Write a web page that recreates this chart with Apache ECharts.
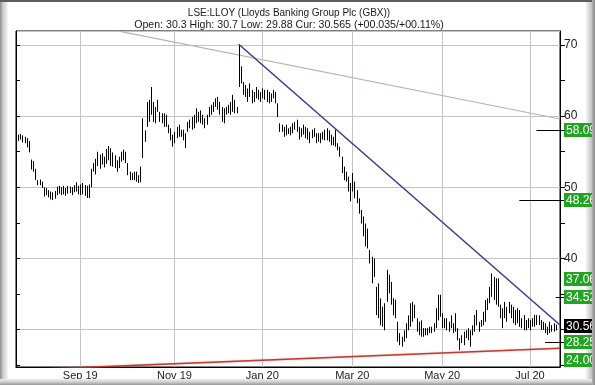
<!DOCTYPE html>
<html><head><meta charset="utf-8">
<script src="https://cdn.jsdelivr.net/npm/echarts@6/dist/echarts.min.js"></script>
<style>html,body{margin:0;padding:0;background:#fff}#c{width:595px;height:385px}</style>
</head><body><div id="c"></div>
<script>
// ---------- data ----------
const titleText = 'LSE:LLOY (Lloyds Banking Group Plc (GBX))';
const quoteText = 'Open: 30.3 High: 30.7 Low: 29.88 Cur: 30.565 (+00.035/+00.11%)';
const startDate = '2019-07-19';
const ukHolidays = ['2019-08-26','2019-12-25','2019-12-26','2020-01-01','2020-04-10','2020-04-13','2020-05-08','2020-05-25'];
const categoryCount = 255;
const monthTickLabels = ['Sep 19','Nov 19','Jan 20','Mar 20','May 20','Jul 20'];

const lows = [
56.5,56.5,56.7,56.3,56.2,55.6,54.9,52.5,52.2,51.0,
50.3,50.3,49.9,48.7,48.9,48.6,48.3,48.2,48.4,48.9,
49.1,48.9,49.0,48.8,49.1,49.2,48.9,49.3,49.4,49.0,
48.9,49.0,48.8,48.5,48.5,50.0,52.2,51.8,53.0,52.6,
53.2,52.8,53.3,53.8,53.0,52.9,52.7,52.2,52.7,53.6,
53.8,53.4,51.7,51.0,51.0,51.0,50.8,50.6,50.7,54.1,
56.4,58.5,59.2,60.2,59.2,59.0,60.6,59.2,59.0,58.5,
58.5,57.6,56.6,55.7,56.2,56.9,57.1,57.1,56.6,55.5,
57.8,58.3,58.1,58.3,59.0,59.2,59.0,58.8,58.3,58.8,
59.9,60.2,60.6,61.3,60.9,60.2,59.2,59.0,60.2,60.4,
60.2,60.6,60.4,60.4,64.1,64.6,63.0,62.7,62.0,62.7,
61.8,62.0,62.5,62.3,62.0,62.5,62.3,62.0,61.8,62.0,
62.5,61.8,59.9,57.8,57.8,57.1,57.3,57.5,57.3,57.6,
58.1,57.8,56.7,57.1,57.4,56.9,56.7,56.2,56.9,57.1,
56.2,56.4,56.2,56.7,56.6,56.6,56.4,55.9,55.9,55.7,
55.2,54.3,52.0,51.0,50.8,49.4,48.0,49.4,48.45,47.75,
46.3,44.9,43.1,41.7,41.4,39.3,36.5,37.4,32.05,31.6,
30.6,30.4,29.9,33.9,35.1,33.5,32.0,31.6,28.3,27.8,
27.6,28.3,28.8,29.9,30.4,31.1,31.6,29.7,29.2,29.0,
29.0,29.2,29.2,29.5,29.5,29.7,30.2,31.3,31.8,30.2,
30.2,29.9,29.7,30.2,29.5,29.7,28.5,27.1,28.1,27.8,
28.8,28.5,27.6,29.2,29.7,30.6,29.7,30.4,30.6,31.1,
32.75,33.7,34.6,34.16,33.5,33.2,31.6,30.2,31.6,31.1,
32.3,31.6,30.9,30.6,30.9,30.4,30.2,29.9,29.9,30.2,
29.9,30.4,30.4,30.64,30.64,29.94,29.94,29.5,29.24,29.5,
29.7,29.7,29.88
];
const highs = [
57.3,57.4,57.5,57.3,57.1,56.9,56.5,53.9,53.7,52.6,
51.0,51.1,50.8,50.0,49.9,49.6,49.4,49.3,49.5,50.1,
50.2,50.0,50.2,49.9,50.2,50.1,50.0,50.3,50.7,50.2,
50.4,50.6,50.3,50.2,50.4,52.6,53.4,54.0,55.0,54.6,
54.8,54.3,55.4,55.8,55.5,54.9,54.5,53.8,54.3,55.0,
55.3,55.0,53.4,52.2,52.0,52.2,52.2,51.7,52.9,59.7,
58.0,62.0,62.3,64.1,62.0,61.3,62.3,60.6,60.4,60.4,
60.2,58.8,58.3,57.4,57.8,58.5,58.8,58.1,58.1,57.6,
59.2,59.5,59.9,60.2,61.1,60.6,60.8,60.2,59.7,60.2,
61.3,61.6,62.0,62.5,62.7,62.0,61.3,61.1,61.3,61.6,
62.0,63.0,62.3,61.3,70.1,67.0,64.8,64.4,63.9,64.6,
63.7,63.4,64.1,63.7,63.4,63.9,63.7,63.7,63.4,63.2,
63.7,63.4,61.8,59.0,58.8,58.5,58.8,58.3,58.5,59.0,
59.2,59.5,58.5,58.3,58.8,58.5,58.3,57.8,58.1,58.3,
57.6,57.6,57.6,57.8,58.1,58.3,58.0,57.4,57.1,58.1,
56.2,55.7,54.3,52.9,52.2,51.5,50.6,52.0,50.8,49.6,
48.45,46.8,45.9,44.9,44.2,41.2,40.25,40.0,36.0,36.5,
34.4,33.2,33.7,38.4,37.7,36.7,34.4,34.2,31.1,29.5,
29.0,29.9,30.9,32.0,33.7,33.9,33.5,31.6,31.1,31.3,
30.2,30.2,30.2,30.4,30.4,30.9,33.0,34.9,34.9,32.3,
31.6,31.6,31.1,32.0,30.9,32.3,30.2,28.8,29.2,29.7,
29.9,30.2,29.9,30.6,32.05,32.75,31.1,31.35,32.5,34.16,
34.4,36.0,37.9,37.4,37.2,37.2,33.5,33.0,33.9,33.2,
33.9,33.5,33.2,32.75,33.0,32.75,31.6,32.05,31.35,31.6,
31.35,31.6,32.05,32.05,32.0,31.35,31.1,30.9,30.4,31.1,
30.64,30.9,30.7
];

const yTickValues = [25,30,35,40,45,50,55,60,65,70];
const yLabelValues = [40,50,60,70];
const blueTrend = [[104, 70.1],[254, 30.65]];
const greyTrend = [[48, 71.95],[254, 59.6]];
const redTrend  = [[0, 24.3],[254, 27.37]];
const levelValues = [58.096, 48.268, 37.063, 34.52, 28.256, 24.005];
const levelLabels = ['58.096','48.268','37.063','34.52','28.256','24.005'];
const currentPrice = 30.565;
const currentLabel = '30.565';

// ---------- layout / style (not data) ----------
const levelLineFrom = [242.6, 234.7, null, 252.4, 246.8, null]; // category index where marker line begins
const G = {left:16, top:31, width:544, height:336};
const yMin = 24.74, yMax = 71.97;
const FONT = '"Liberation Sans", Arial, sans-serif';

// trading-day categories
function pad(n){return (n<10?'0':'')+n;}
const categories = [];
{
  const d = new Date(startDate + 'T12:00:00Z');
  while (categories.length < categoryCount) {
    const s = d.getUTCFullYear()+'-'+pad(d.getUTCMonth()+1)+'-'+pad(d.getUTCDate());
    const wd = d.getUTCDay();
    if (wd !== 0 && wd !== 6 && ukHolidays.indexOf(s) < 0) categories.push(s);
    d.setUTCDate(d.getUTCDate()+1);
  }
}
const MON = ['Jan','Feb','Mar','Apr','May','Jun','Jul','Aug','Sep','Oct','Nov','Dec'];
const tickIndex = {};
categories.forEach((c,i)=>{
  if (i===0) return;
  if (c.slice(5,7) !== categories[i-1].slice(5,7)) {
    const lab = MON[+c.slice(5,7)-1] + ' ' + c.slice(2,4);
    if (monthTickLabels.indexOf(lab) >= 0) tickIndex[i] = lab;
  }
});
const isTick = (i) => tickIndex.hasOwnProperty(i);

const chart = echarts.init(document.getElementById('c'), null, {renderer:'canvas'});

const option = {
  animation: false,
  backgroundColor: '#ffffff',
  grid: Object.assign({show:true, borderColor:'#000', borderWidth:1, backgroundColor:'#fff', containLabel:false, outerBoundsMode:'none'}, G),
  xAxis: {
    type:'category', data: categories, boundaryGap:false,
    axisLine:{show:true, lineStyle:{color:'#000', width:1}},
    axisTick:{show:false},
    axisLabel:{interval:(i)=>isTick(i), formatter:(v,i)=>tickIndex[i]||'', color:'#222', fontFamily:FONT, fontSize:11, margin:3},
    splitLine:{show:true, interval:(i)=>isTick(i), lineStyle:{color:'#c4c4c4', width:1}}
  },
  yAxis: [
    { type:'value', position:'right', min:yMin, max:yMax,
      axisLine:{show:true, lineStyle:{color:'#000'}},
      axisTick:{show:true, inside:false, length:5, customValues:yTickValues, lineStyle:{color:'#000'}},
      axisLabel:{show:true, customValues:yLabelValues, color:'#222', fontFamily:FONT, fontSize:12, margin:4},
      splitLine:{show:false} },
    { type:'value', position:'left', min:yMin, max:yMax,
      axisLine:{show:true, lineStyle:{color:'#000'}},
      axisTick:{show:true, inside:true, length:4, customValues:yTickValues, lineStyle:{color:'#000'}},
      axisLabel:{show:false}, splitLine:{show:false} },
    { type:'value', position:'left', min:yMin, max:yMax, splitNumber:5,
      axisLine:{show:false}, axisTick:{show:false}, axisLabel:{show:false},
      splitLine:{show:true, lineStyle:{color:'#c4c4c4', width:1}} }
  ],
  series: [
    { type:'line', name:'red', data: redTrend, yAxisIndex:0, symbol:'none', clip:true, z:3,
      lineStyle:{color:'#c23b32', width:1.6, shadowColor:'rgba(200,80,70,0.35)', shadowBlur:2} },
    { type:'line', name:'grey', data: greyTrend, yAxisIndex:0, symbol:'none', clip:true, z:3,
      lineStyle:{color:'#bcb4a6', width:1.2} },
    { type:'custom', name:'LLOY', yAxisIndex:0, z:4,
      data: lows.map((l,i)=>[i, l, highs[i]]),
      encode:{x:0, y:[1,2]},
      renderItem:(params, api)=>{
        const p1 = api.coord([api.value(0), api.value(1)]);
        const p2 = api.coord([api.value(0), api.value(2)]);
        const x = Math.round(p1[0]) + 0.5;
        return {type:'line', shape:{x1:x, y1:p1[1], x2:x, y2:p2[1]}, style:{stroke:'#000', lineWidth:1}};
      } },
    { type:'line', name:'blue', data: blueTrend, yAxisIndex:0, symbol:'none', clip:true, z:5,
      lineStyle:{color:'#3a3a8e', width:1.5} }
  ]
};
chart.setOption(option);

// ---------- annotations placed through the axis scales ----------
const gBottom = G.top + G.height;
const graphics = [];
// window frame bevels
graphics.push({type:'rect', shape:{x:0,y:0,width:8,height:385}, z:100, silent:true,
  style:{fill:new echarts.graphic.LinearGradient(0,0,1,0,[{offset:0,color:'#8a8a8a'},{offset:0.35,color:'#c9c9c9'},{offset:1,color:'#f6f6f6'}])}});
graphics.push({type:'rect', shape:{x:586,y:0,width:9,height:385}, z:100, silent:true,
  style:{fill:new echarts.graphic.LinearGradient(0,0,1,0,[{offset:0,color:'#f4f4f4'},{offset:0.6,color:'#c4c4c4'},{offset:1,color:'#8a8a8a'}])}});
graphics.push({type:'rect', shape:{x:0,y:379,width:595,height:6}, z:101, silent:true,
  style:{fill:new echarts.graphic.LinearGradient(0,0,0,1,[{offset:0,color:'#eeeeee'},{offset:0.5,color:'#cfcfcf'},{offset:1,color:'#969696'}])}});
graphics.push({type:'rect', shape:{x:0,y:0,width:595,height:2}, z:102, silent:true, style:{fill:'#5e5e5e'}});
// title lines
graphics.push({type:'text', x:289, y:13, z:110, silent:true,
  style:{text:titleText, fill:'#1a1a1a', font:'10px '+FONT, align:'center', verticalAlign:'middle'}});
graphics.push({type:'text', x:289, y:25, z:110, silent:true,
  style:{text:quoteText, fill:'#1a1a1a', font:'10.6px '+FONT, align:'center', verticalAlign:'middle'}});

function pix(i, v){ return chart.convertToPixel({xAxisIndex:0, yAxisIndex:0}, [i, v]); }
const BOX_X = 564, BOX_W = 28, BOX_H = 14;
function addBox(value, text, fill, fromIdx){
  let y = pix(0, value)[1];
  const yc = Math.min(y, gBottom - BOX_H/2);
  if (fromIdx != null) {
    const x0 = pix(fromIdx, value)[0];
    const yy = Math.round(y) + 0.5;
    graphics.push({type:'line', z:120, silent:true, shape:{x1:x0, y1:yy, x2:BOX_X, y2:yy}, style:{stroke:'#000', lineWidth:1}});
  }
  graphics.push({type:'rect', z:121, silent:true, shape:{x:BOX_X, y:Math.round(yc - BOX_H/2), width:BOX_W, height:BOX_H}, style:{fill:fill}});
  graphics.push({type:'text', z:122, silent:true, x:BOX_X+2, y:Math.round(yc)+0.5,
    style:{text:text, fill:'#fff', font:'12px '+FONT, align:'left', verticalAlign:'middle'}});
}
levelValues.forEach((v,k)=> addBox(v, levelLabels[k], '#22a322', levelLineFrom[k]));
addBox(currentPrice, currentLabel, '#000', null);
// clip strip on the right edge
graphics.push({type:'rect', shape:{x:592,y:0,width:3,height:385}, z:130, silent:true,
  style:{fill:new echarts.graphic.LinearGradient(0,0,1,0,[{offset:0,color:'#b0b0b0'},{offset:1,color:'#8a8a8a'}])}});

chart.setOption({graphic: graphics});
</script>
</body></html>
